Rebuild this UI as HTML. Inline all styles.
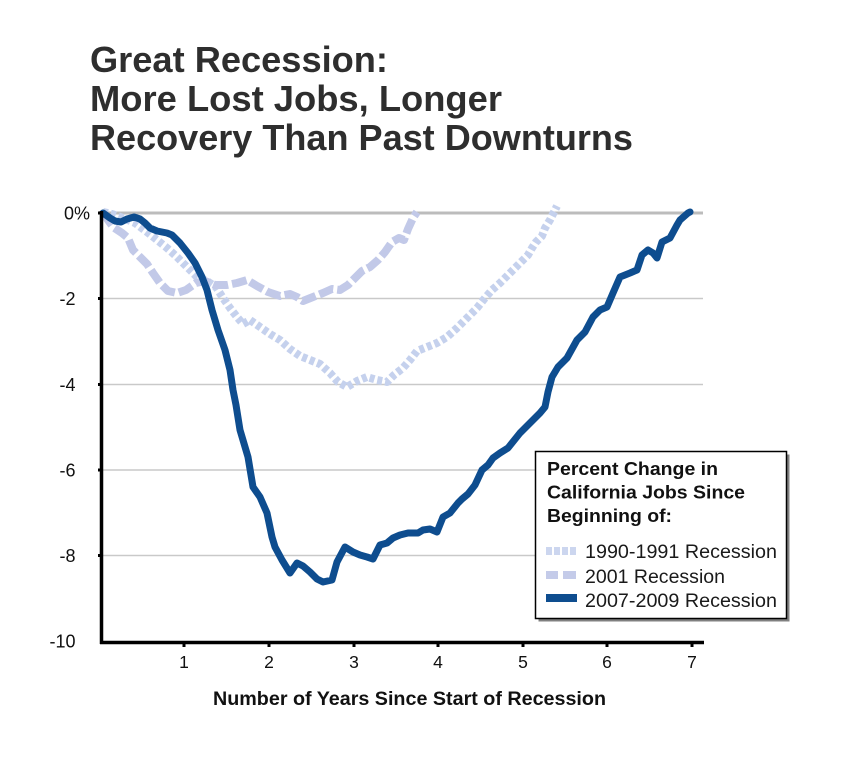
<!DOCTYPE html>
<html>
<head>
<meta charset="utf-8">
<style>
  html,body{margin:0;padding:0;background:#fff;}
  body{width:850px;height:767px;overflow:hidden;}
  svg{display:block;}
  text{font-family:"Liberation Sans", Arial, sans-serif;}
</style>
</head>
<body>
<svg width="850" height="767" viewBox="0 0 850 767" xmlns="http://www.w3.org/2000/svg">
  <rect x="0" y="0" width="850" height="767" fill="#fff"/>

  <!-- Title -->
  <g fill="#2e2e2e" font-weight="bold" font-size="36">
    <text x="90" y="72" textLength="298" lengthAdjust="spacingAndGlyphs">Great Recession:</text>
    <text x="90" y="111" textLength="412" lengthAdjust="spacingAndGlyphs">More Lost Jobs, Longer</text>
    <text x="90" y="150" textLength="543" lengthAdjust="spacingAndGlyphs">Recovery Than Past Downturns</text>
  </g>

  <!-- Gridlines -->
  <g stroke="#c9c9c9" stroke-width="1.5">
    <line x1="101" y1="298.5" x2="703" y2="298.5"/>
    <line x1="101" y1="384.5" x2="703" y2="384.5"/>
    <line x1="101" y1="470" x2="703" y2="470"/>
    <line x1="101" y1="555.5" x2="703" y2="555.5"/>
  </g>
  <line x1="101" y1="213" x2="703" y2="213" stroke="#bcbcbc" stroke-width="3"/>

  <!-- 1990-1991 dotted -->
  <polyline fill="none" stroke="#c5d1ed" stroke-width="8" stroke-dasharray="5 3" stroke-linejoin="round"
    points="103,212 112,214 123,218 135,223 147,232 157,240 167,248 177,257 187,267 197,277 207,281 216,287 223,298 230,308 237,317 243,324 250,320 260,327 270,334 280,340 290,349 300,356 310,360 320,364 330,373 338,382 347,387 357,381 367,377 377,380 387,382 394,375 403,368 410,360 417,351 427,347 437,343 447,337 457,328 467,318 477,308 485,298 492,290 500,283 510,273 520,263 528,255 532,248 536,242 542,236 545,228 550,220 554,212 557,206"/>

  <!-- 2001 dashed -->
  <polyline fill="none" stroke="#c2c9e8" stroke-width="8" stroke-dasharray="15 4" stroke-linejoin="round"
    points="103,213 108,220 113,227 122,233 128,238 133,250 140,257 147,264 153,273 160,283 168,291 177,293 186,290 196,283 205,281 215,285 227,285 237,283 247,280 257,286 268,292 280,296 290,294 297,297 303,301 313,297 323,293 332,289 340,290 348,285 355,278 362,271 370,267 378,260 385,252 392,242 399,238 404,240 408,229 413,218 417,212"/>

  <!-- 2007-2009 solid -->
  <polyline fill="none" stroke="#0e4d8f" stroke-width="7" stroke-linejoin="round" stroke-linecap="round"
    points="103,213 110,218 115,221 121,222 127,219 134,217 140,219 145,223 150,228 157,231 167,233 172,235 180,243 188,253 195,263 202,277 207,290 212,310 218,330 225,350 230,370 233,390 236,405 240,430 248,457 253,487 260,497 267,513 272,537 275,547 282,560 290,573 297,563 303,566 310,572 317,579 323,582 332,580 337,562 345,547 353,552 360,555 367,557 373,559 380,545 387,543 393,538 400,535 408,533 418,533 423,530 430,529 437,532 443,517 450,513 458,503 462,499 468,494 475,485 482,470 488,465 493,458 500,453 508,448 520,433 530,423 540,413 545,407 548,392 552,377 558,367 567,358 577,340 585,332 593,317 600,310 607,307 613,293 620,277 630,273 637,270 642,255 648,250 653,253 657,258 662,242 670,238 677,225 680,220 688,213 690,212"/>

  <!-- Axes -->
  <line x1="101.5" y1="211" x2="101.5" y2="644" stroke="#000" stroke-width="3.5"/>
  <line x1="100" y1="642.5" x2="704" y2="642.5" stroke="#000" stroke-width="3.5"/>
  <g stroke="#000" stroke-width="3">
    <line x1="98" y1="213" x2="101" y2="213"/>
    <line x1="98" y1="298.5" x2="101" y2="298.5"/>
    <line x1="98" y1="384.5" x2="101" y2="384.5"/>
    <line x1="98" y1="470" x2="101" y2="470"/>
    <line x1="98" y1="555.5" x2="101" y2="555.5"/>
    <line x1="184" y1="643" x2="184" y2="647"/>
    <line x1="269" y1="643" x2="269" y2="647"/>
    <line x1="354" y1="643" x2="354" y2="647"/>
    <line x1="438" y1="643" x2="438" y2="647"/>
    <line x1="523" y1="643" x2="523" y2="647"/>
    <line x1="607" y1="643" x2="607" y2="647"/>
    <line x1="692" y1="643" x2="692" y2="647"/>
  </g>

  <!-- Y labels -->
  <g fill="#111" font-size="18">
    <text x="64" y="219.5">0%</text>
    <text x="75.5" y="305" text-anchor="end">-2</text>
    <text x="75.5" y="391" text-anchor="end">-4</text>
    <text x="75.5" y="476.5" text-anchor="end">-6</text>
    <text x="75.5" y="562" text-anchor="end">-8</text>
    <text x="75.5" y="647.5" text-anchor="end">-10</text>
  </g>

  <!-- X labels -->
  <g fill="#111" font-size="17.5" text-anchor="middle">
    <text x="184" y="668">1</text>
    <text x="269" y="668">2</text>
    <text x="354" y="668">3</text>
    <text x="438" y="668">4</text>
    <text x="523" y="668">5</text>
    <text x="607" y="668">6</text>
    <text x="692" y="668">7</text>
  </g>

  <text x="213" y="705" fill="#111" font-size="19" font-weight="bold" textLength="393" lengthAdjust="spacingAndGlyphs">Number of Years Since Start of Recession</text>

  <!-- Legend -->
  <rect x="538.5" y="454.5" width="251" height="167" fill="#808080"/>
  <rect x="535.5" y="451.5" width="251" height="167" fill="#fff" stroke="#000" stroke-width="1.5"/>
  <g fill="#111" font-size="18" font-weight="bold">
    <text x="547" y="475" textLength="171" lengthAdjust="spacingAndGlyphs">Percent Change in</text>
    <text x="547" y="498.5" textLength="198" lengthAdjust="spacingAndGlyphs">California Jobs Since</text>
    <text x="547" y="522" textLength="125" lengthAdjust="spacingAndGlyphs">Beginning of:</text>
  </g>
  <!-- swatches -->
  <g fill="#ccd6ef">
    <rect x="546" y="547" width="6" height="8"/>
    <rect x="554" y="547" width="6" height="8"/>
    <rect x="562" y="547" width="6" height="8"/>
    <rect x="570" y="547" width="6" height="8"/>
  </g>
  <g fill="#c4cbe9">
    <rect x="546" y="571" width="12" height="8"/>
    <rect x="563" y="571" width="13" height="8"/>
  </g>
  <rect x="546" y="594" width="31" height="8" fill="#0e4d8f"/>
  <g fill="#1a1a1a" font-size="19">
    <text x="585" y="558" textLength="192" lengthAdjust="spacingAndGlyphs">1990-1991 Recession</text>
    <text x="585" y="583" textLength="140" lengthAdjust="spacingAndGlyphs">2001 Recession</text>
    <text x="585" y="607" textLength="192" lengthAdjust="spacingAndGlyphs">2007-2009 Recession</text>
  </g>
</svg>
</body>
</html>
